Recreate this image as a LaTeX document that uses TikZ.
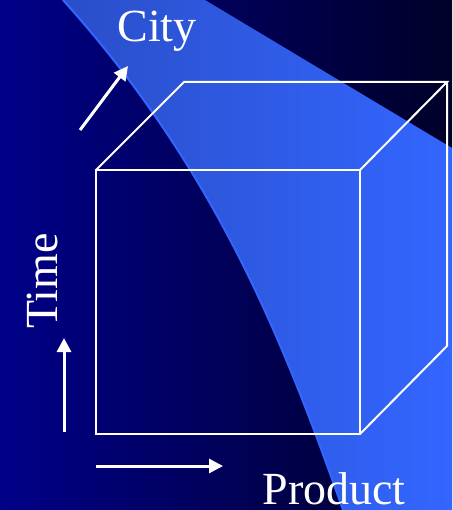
\documentclass[tikz,border=0pt]{standalone}
\usepackage{fontspec}
\setmainfont{Liberation Serif}
\usetikzlibrary{arrows.meta,positioning,calc}
\definecolor{slidenavy}{RGB}{0,0,136}
\definecolor{slidedark}{RGB}{0,0,40}
\definecolor{bandleft}{RGB}{42,78,200}
\definecolor{bandright}{RGB}{51,102,255}

\tikzset{
  cubeedge/.style={white, line width=2pt, line join=miter},
  axisarrow/.style={white, line width=3pt, -{Triangle[length=14pt, width=14pt]}},
  axislabel/.style={text=white, font=\fontsize{46}{52}\selectfont, inner sep=0pt}
}

\begin{document}
\begin{tikzpicture}[x=1pt, y=-1pt]
  \useasboundingbox (0,0) rectangle (452,510);

  % Background gradient
  \shade[left color=slidenavy, right color=slidedark] (0,0) rectangle (452,510);

  % Light band sweeping down to the right
  \begin{scope}
    \clip (63,0) .. controls (216,170) and (283,340) .. (343,510)
      -- (452,510) -- (452,148) -- (205,0) -- cycle;
    \shade[left color=bandleft, right color=bandright] (60,0) rectangle (452,510);
  \end{scope}
  \draw[bandright, line width=2pt] (63,0) .. controls (216,170) and (283,340) .. (343,510);

  % Cube corners
  \coordinate (ftl) at (96,170);
  \coordinate (ftr) at (360,170);
  \coordinate (fbl) at (96,434);
  \coordinate (fbr) at (360,434);
  \coordinate (btl) at (184,82);
  \coordinate (btr) at (447,82);
  \coordinate (bbr) at (447,346);

  % Visible cube edges
  \draw[cubeedge] (ftl) rectangle (fbr);
  \draw[cubeedge] (ftl) -- (btl) -- (btr) -- (ftr);
  \draw[cubeedge] (btr) -- (bbr) -- (fbr);

  % Axis arrows
  \coordinate (citytail) at (80,130);
  \coordinate (cityhead) at (128,66);
  \coordinate (timetail) at (64,432);
  \coordinate (timehead) at (64,338);
  \coordinate (prodtail) at (96,466);
  \coordinate (prodhead) at (223,466);
  \draw[axisarrow] (citytail) -- (cityhead);
  \draw[axisarrow] (timetail) -- (timehead);
  \draw[axisarrow] (prodtail) -- (prodhead);

  % Axis labels
  \node[axislabel, anchor=base] (city) at (157,42) {City};
  \node[axislabel, anchor=base, rotate=90] (time) at (57,281) {Time};
  \node[axislabel, anchor=base] (product) at (334,504) {Product};
\end{tikzpicture}
\end{document}
